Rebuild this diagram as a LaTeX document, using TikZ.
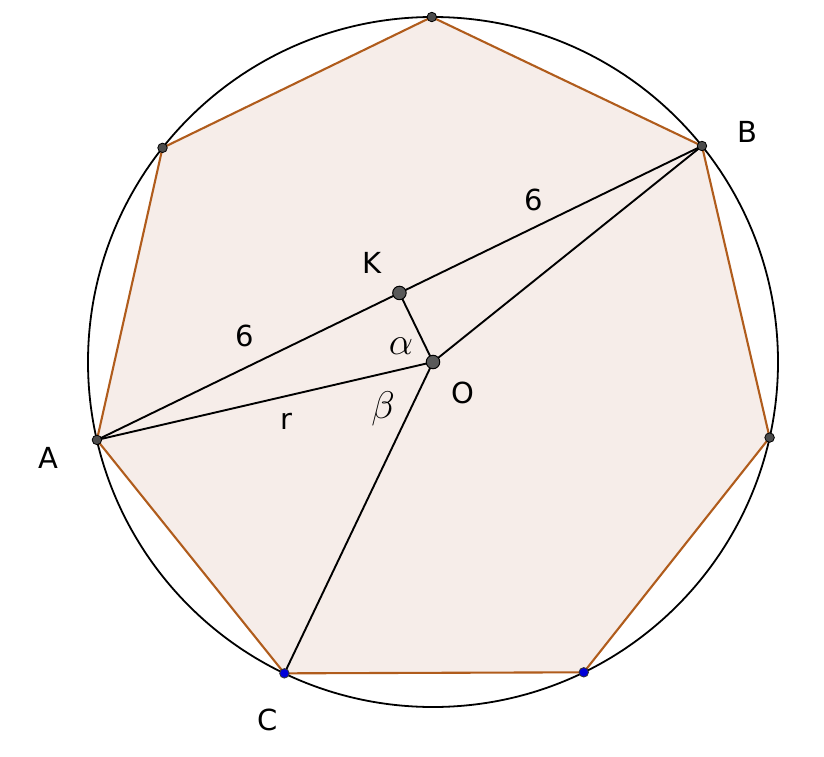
\documentclass[tikz,border=0pt]{standalone}
\usepackage{fontspec}
\setmainfont{DejaVu Sans}
\usetikzlibrary{calc}
\begin{document}
\begin{tikzpicture}[x=1pt,y=1pt,
  lbl/.style={font=\fontsize{29}{31}\selectfont, inner sep=0pt},
  seg/.style={line width=1.9pt, black},
  vpt/.style={circle, fill=black!70, draw=black, line width=0.8pt, inner sep=0pt, minimum size=9.5pt},
  bpt/.style={circle, fill=blue!85!black, draw=black!80, line width=0.8pt, inner sep=0pt, minimum size=9.5pt},
  bigpt/.style={circle, fill=black!65, draw=black, line width=1pt, inner sep=0pt, minimum size=13.5pt}]
\definecolor{polyfill}{RGB}{246,237,233}
\definecolor{polyedge}{RGB}{176,92,28}
\useasboundingbox (-433,-394) rectangle (391,362);
\coordinate (O) at (0,0);
\foreach \i in {0,...,6} {
  \coordinate (P\i) at ({90.2-\i*360/7}:345);
}
% P0 top, P1 = B, P2 right, P3 blue, P4 = C, P5 = A, P6 upper left
\fill[polyfill] (P0)--(P1)--(P2)--(P3)--(P4)--(P5)--(P6)--cycle;
\draw[polyedge, line width=2.1pt, line join=round] (P0)--(P1)--(P2)--(P3)--(P4)--(P5)--(P6)--cycle;
\draw[line width=1.8pt] (O) circle (345);
\coordinate (K) at ($(P5)!0.5!(P1)$);
\draw[seg] (P5) -- (P1);
\draw[seg] (P5) -- (O) -- (P1);
\draw[seg] (O) -- (P4);
\draw[seg] (K) -- (O);
\foreach \i in {0,1,2,5,6} { \node[vpt] (v\i) at (P\i) {}; }
\node[bpt] (v3) at (P3) {};
\node[bpt] (v4) at (P4) {};
\node[bigpt] (nK) at (K) {};
\node[bigpt] (nO) at (O) {};
\node[lbl] (lB) at (314,230) {B};
\node[lbl] (lK) at (-61,99) {K};
\node[lbl] (l6a) at (101,162) {6};
\node[lbl] (l6b) at (-188,26) {6};
\node[lbl] (la) at (-32,16) {\scalebox{1.55}{$\alpha$}};
\node[lbl] (lO) at (30,-31) {O};
\node[lbl] (lb) at (-50,-47) {\scalebox{1.55}{$\beta$}};
\node[lbl] (lr) at (-147,-59) {r};
\node[lbl] (lA) at (-385,-96) {A};
\node[lbl] (lC) at (-165,-358) {C};
\end{tikzpicture}
\end{document}
